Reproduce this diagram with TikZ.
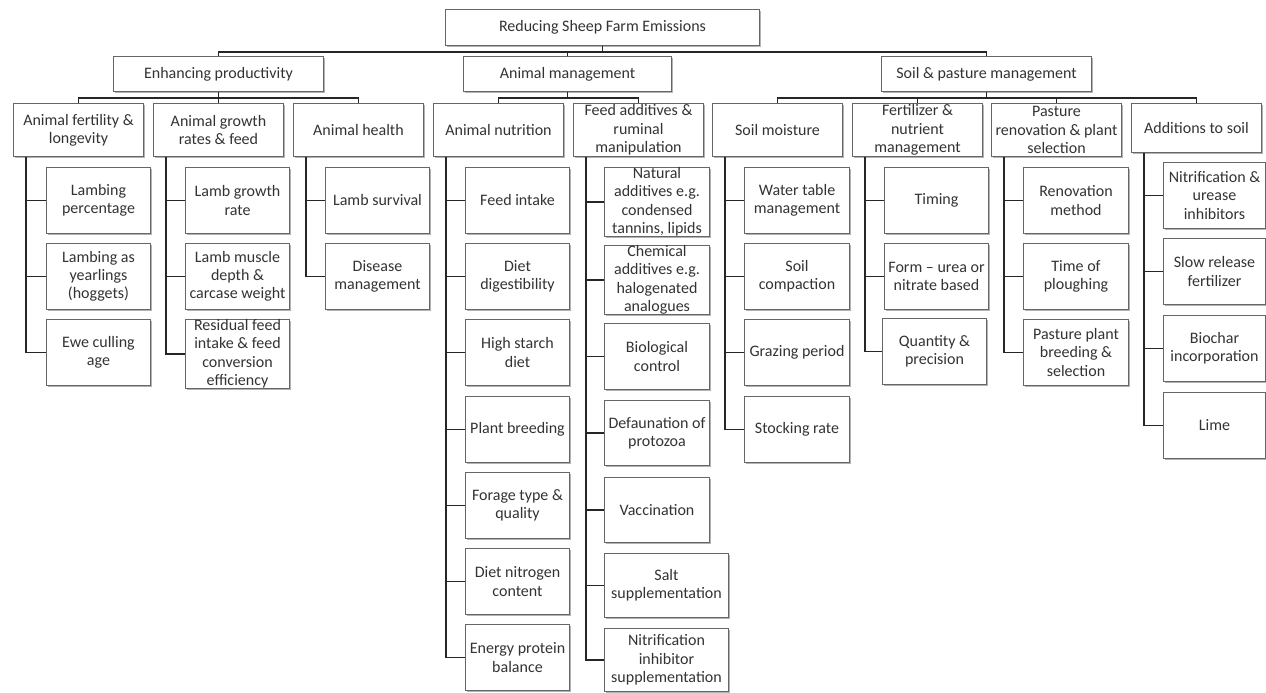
\documentclass[tikz,border=0pt]{standalone}
\usepackage{fontspec}
\setmainfont{Carlito}
\usetikzlibrary{shadows}
\begin{document}
\begin{tikzpicture}[x=1pt,y=-1pt,
  box/.style={draw=black!60, line width=1pt, fill=white, inner sep=0pt, align=center, anchor=north west, text=black!80, font=\fontsize{16}{18.3}\selectfont, drop shadow={shadow xshift=1.4pt, shadow yshift=-1.8pt, fill=black!50, opacity=0.6}},
  top/.style={box, minimum width=314pt, minimum height=36pt},
  mid/.style={box, minimum width=210pt, minimum height=35pt},
  cat/.style={box, minimum width=130pt, minimum height=53pt},
  leaf/.style={box, minimum width=104pt, minimum height=66pt},
  conn/.style={draw=black!85, line width=1.8pt}]
\useasboundingbox (0,0) rectangle (1266,693);
\node[top] (root) at (445,9){Reducing Sheep Farm Emissions};
\node[mid] (ep) at (113,56){Enhancing productivity};
\node[mid, minimum width=208pt] (am) at (463,56){Animal management};
\node[mid] (sp) at (881,56){Soil \& pasture management};
\node[cat] (ep1) at (13,103){Animal fertility \&\\longevity};
\node[cat] (ep2) at (153,103){Animal growth\\rates \& feed};
\node[cat] (ep3) at (293,103){Animal health};
\node[cat] (am1) at (433,103){Animal nutrition};
\node[cat] (am2) at (573,103){Feed additives \&\\ruminal\\manipulation};
\node[cat] (sp1) at (712,103){Soil moisture};
\node[cat] (sp2) at (852,103){Fertilizer \&\\nutrient\\management};
\node[cat] (sp3) at (991,103){Pasture\\renovation \& plant\\selection};
\node[cat, minimum height=49pt] (sp4) at (1131,103){Additions to soil};
\node[leaf] (ep1a) at (46,167){Lambing\\percentage};
\node[leaf] (ep1b) at (46,243){Lambing as\\yearlings\\(hoggets)};
\node[leaf] (ep1c) at (46,319){Ewe culling\\age};
\node[leaf] (ep2a) at (185,167){Lamb growth\\rate};
\node[leaf] (ep2b) at (185,243){Lamb muscle\\depth \&\\carcase weight};
\node[leaf] (ep2c) at (185,319){Residual feed\\intake \& feed\\conversion\\efficiency};
\node[leaf] (ep3a) at (325,167){Lamb survival};
\node[leaf] (ep3b) at (325,243){Disease\\management};
\node[leaf] (am1a) at (465,167){Feed intake};
\node[leaf] (am1b) at (465,243){Diet\\digestibility};
\node[leaf] (am1c) at (465,319){High starch\\diet};
\node[leaf] (am1d) at (465,396){Plant breeding};
\node[leaf] (am1e) at (465,472){Forage type \&\\quality};
\node[leaf] (am1f) at (465,548){Diet nitrogen\\content};
\node[leaf] (am1g) at (465,624){Energy protein\\balance};
\node[leaf, minimum width=105pt] (am2a) at (604,167){Natural\\additives e.g.\\condensed\\tannins, lipids};
\node[leaf, minimum width=105pt, minimum height=68pt] (am2b) at (604,245){Chemical\\additives e.g.\\halogenated\\analogues};
\node[leaf, minimum width=105pt] (am2c) at (604,323){Biological\\control};
\node[leaf, minimum width=105pt, minimum height=65pt] (am2d) at (604,400){Defaunation of\\protozoa};
\node[leaf, minimum width=105pt, minimum height=65pt] (am2e) at (604,477){Vaccination};
\node[leaf, minimum width=124pt, minimum height=64pt] (am2f) at (604,553){Salt\\supplementation};
\node[leaf, minimum width=124pt, minimum height=63pt] (am2g) at (604,628){Nitrification\\inhibitor\\supplementation};
\node[leaf, minimum width=105pt] (sp1a) at (744,167){Water table\\management};
\node[leaf, minimum width=105pt] (sp1b) at (744,243){Soil\\compaction};
\node[leaf, minimum width=105pt] (sp1c) at (744,319){Grazing period};
\node[leaf, minimum width=105pt] (sp1d) at (744,396){Stocking rate};
\node[leaf] (sp2a) at (884,167){Timing};
\node[leaf] (sp2b) at (884,243){Form – urea or\\nitrate based};
\node[leaf] (sp2c) at (882,318){Quantity \&\\precision};
\node[leaf, minimum width=105pt] (sp3a) at (1023,167){Renovation\\method};
\node[leaf, minimum width=105pt] (sp3b) at (1023,243){Time of\\ploughing};
\node[leaf, minimum width=105pt] (sp3c) at (1023,319){Pasture plant\\breeding \&\\selection};
\node[leaf, minimum width=102pt] (sp4a) at (1163,162){Nitrification \&\\urease\\inhibitors};
\node[leaf, minimum width=102pt] (sp4b) at (1163,238){Slow release\\fertilizer};
\node[leaf, minimum width=102pt] (sp4c) at (1163,315){Biochar\\incorporation};
\node[leaf, minimum width=102pt] (sp4d) at (1163,392){Lime};
\draw[conn](root.south) -- ++(0,6) -| (ep.north);
\draw[conn](root.south) -- ++(0,6) -| (am.north);
\draw[conn](root.south) -- ++(0,6) -| (sp.north);
\foreach \c in {ep1,ep2,ep3}
  \draw[conn](ep.south) -- ++(0,6) -| (\c.north);
\foreach \c in {am1,am2}
  \draw[conn](am.south) -- ++(0,6) -| (\c.north);
\foreach \c in {sp1,sp2,sp3,sp4}
  \draw[conn](sp.south) -- ++(0,6) -| (\c.north);
\foreach \p/\c in {ep1/ep1a,ep1/ep1b,ep1/ep1c,ep2/ep2a,ep2/ep2b,ep2/ep2c,ep3/ep3a,ep3/ep3b,
  am1/am1a,am1/am1b,am1/am1c,am1/am1d,am1/am1e,am1/am1f,am1/am1g,
  am2/am2a,am2/am2b,am2/am2c,am2/am2d,am2/am2e,am2/am2f,am2/am2g,
  sp1/sp1a,sp1/sp1b,sp1/sp1c,sp1/sp1d,sp2/sp2a,sp2/sp2b,sp2/sp2c,
  sp3/sp3a,sp3/sp3b,sp3/sp3c,sp4/sp4a,sp4/sp4b,sp4/sp4c,sp4/sp4d}
  \draw[conn]([xshift=13pt]\p.south west) |- (\c.west);

\end{tikzpicture}
\end{document}
